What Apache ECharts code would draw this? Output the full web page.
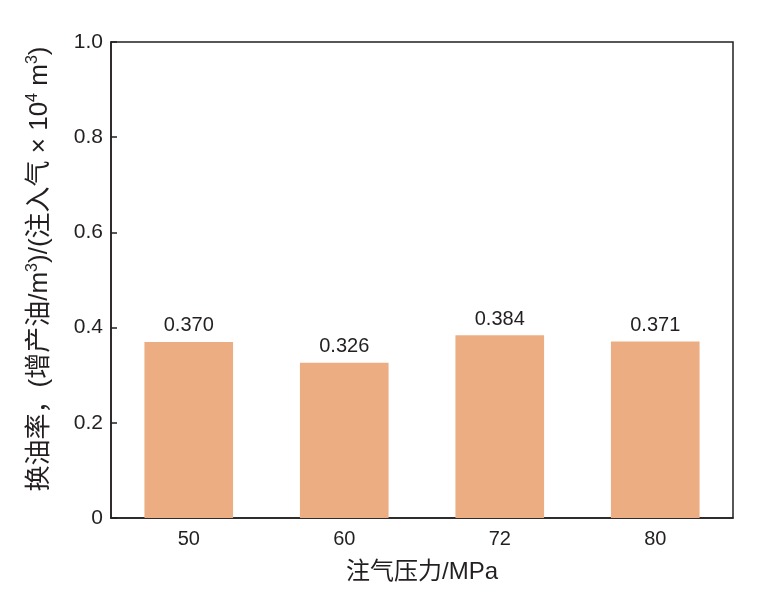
<!DOCTYPE html>
<html><head><meta charset="utf-8">
<script src="https://cdn.jsdelivr.net/npm/echarts@6/dist/echarts.min.js"></script>
<style>html,body{margin:0;padding:0;background:#fff}#c{width:775px;height:592px}</style>
</head><body><div id="c"></div>
<script>
const categories = ['50', '60', '72', '80'];
const values = [0.370, 0.326, 0.384, 0.371];
const yTicks = [0, 0.2, 0.4, 0.6, 0.8, 1.0];
const xName = '注气压力/MPa';
const yName = '换油率，(增产油/m{s|3})/(注入气 × 10{s|4} m{s|3})';

const font = '"Liberation Sans", Arial, "Noto Sans CJK SC", sans-serif';
const chart = echarts.init(document.getElementById('c'), null, {renderer: 'canvas'});
chart.setOption({
  animation: false,
  backgroundColor: '#fff',
  textStyle: {fontFamily: font},
  grid: {left: 111, right: 42, top: 42, bottom: 74, show: true, borderColor: '#231f20', borderWidth: 1.5},
  xAxis: {
    type: 'category', data: categories,
    name: xName, nameLocation: 'middle', nameGap: 42,
    nameTextStyle: {fontSize: 24, color: '#231f20', fontFamily: font},
    axisLine: {lineStyle: {color: '#231f20', width: 1.5}},
    axisTick: {show: false},
    axisLabel: {fontSize: 20, color: '#231f20', margin: 11, fontFamily: font}
  },
  yAxis: {
    type: 'value', min: 0, max: 1.0, interval: 0.2,
    name: yName, nameLocation: 'middle', nameGap: 56, nameRotate: 90,
    nameTextStyle: {fontSize: 26, color: '#231f20', fontFamily: font, lineHeight: 30, padding: [0, 0, 0, 22],
      rich: {s: {fontSize: 16, color: '#231f20', fontFamily: font, verticalAlign: 'top', lineHeight: 30, padding: [0, 0, 11, 0]}}},
    axisLine: {show: true, lineStyle: {color: '#231f20', width: 1.5}},
    axisTick: {show: true, inside: true, length: 6, lineStyle: {color: '#231f20', width: 1.5}},
    splitLine: {show: false},
    axisLabel: {fontSize: 21, color: '#231f20', margin: 8, fontFamily: font,
      formatter: v => { const t = yTicks.find(x => Math.abs(x - v) < 1e-9); return t === 0 ? '0' : t.toFixed(1); }}
  },
  series: [{
    type: 'bar', data: values, barWidth: '57%',
    itemStyle: {color: '#ECAD82'},
    label: {show: true, position: 'top', distance: 6, fontSize: 20, color: '#231f20', fontFamily: font,
      formatter: p => p.value.toFixed(3)}
  }]
});
</script></body></html>
